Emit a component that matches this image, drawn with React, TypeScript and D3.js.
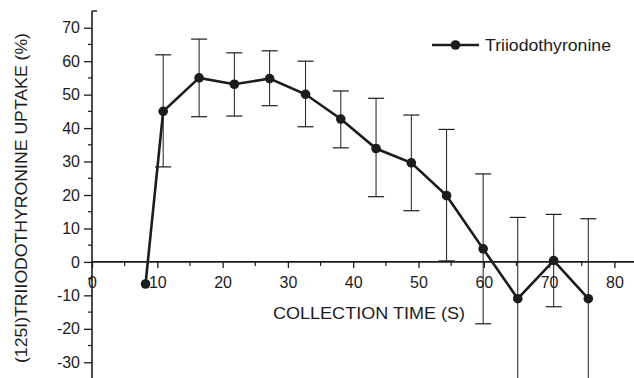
import React, { useEffect, useRef } from 'react'
import * as d3 from 'd3'

const times = [8.2, 10.9, 16.4, 21.8, 27.2, 32.7, 38.1, 43.5, 48.9, 54.3, 59.9, 65.2, 70.7, 76.0]
const uptake = [-6.6, 45, 55, 53.1, 54.8, 50.1, 42.7, 33.9, 29.6, 19.8, 3.9, -11, 0.4, -11]
const errHigh = [null, 61.9, 66.6, 62.5, 63.1, 60, 51.1, 48.9, 43.9, 39.6, 26.3, 13.3, 14.2, 12.9]
const errLow = [null, 28.4, 43.4, 43.6, 46.7, 40.4, 34.1, 19.5, 15.3, 0.3, -18.5, -37, -13.4, -37]

const xTicks = [0, 10, 20, 30, 40, 50, 60, 70, 80]
const yTicks = [-30, -20, -10, 0, 10, 20, 30, 40, 50, 60, 70]
const seriesName = 'Triiodothyronine'

const W = 634
const H = 378
const FONT = '"Liberation Sans", Arial, sans-serif'
const INK = '#1c1c1c'

export default function App() {
  const ref = useRef<SVGSVGElement | null>(null)

  useEffect(() => {
    const svg = d3.select(ref.current)
    svg.selectAll('*').remove()

    const x = d3.scaleLinear().domain([0, 83]).range([92, 634])
    const y = d3.scaleLinear().domain([-35, 75]).range([379, 11])

    const g = svg.append('g')

    // y axis
    const yAxis = d3
      .axisLeft(y)
      .tickValues(yTicks)
      .tickSize(8)
      .tickPadding(4)
      .tickFormat((d) => String(d))
    const ya = g.append('g').attr('transform', `translate(${x(0)},0)`).call(yAxis)
    ya.select('.domain').remove()
    ya.selectAll('text').attr('font-size', 16).attr('font-family', FONT).attr('fill', INK)
    ya.selectAll('line').attr('stroke', INK).attr('stroke-width', 1.3)
    const yMinor = d3.range(-35, 75, 10)
    g.selectAll('.yminor')
      .data(yMinor)
      .enter()
      .append('line')
      .attr('x1', x(0) - 4)
      .attr('x2', x(0))
      .attr('y1', (d) => y(d))
      .attr('y2', (d) => y(d))
      .attr('stroke', INK)
      .attr('stroke-width', 1.2)
    g.append('line')
      .attr('x1', x(0))
      .attr('x2', x(0))
      .attr('y1', y(75))
      .attr('y2', H)
      .attr('stroke', INK)
      .attr('stroke-width', 1.6)
    g.append('line')
      .attr('x1', x(0))
      .attr('x2', x(0) + 5)
      .attr('y1', y(75))
      .attr('y2', y(75))
      .attr('stroke', INK)
      .attr('stroke-width', 1.4)

    // x axis at y=0
    const xAxis = d3
      .axisBottom(x)
      .tickValues(xTicks)
      .tickSize(6)
      .tickPadding(9)
      .tickFormat((d) => String(d))
    const xa = g.append('g').attr('transform', `translate(0,${y(0)})`).call(xAxis)
    xa.select('.domain').remove()
    xa.selectAll('text').attr('font-size', 16).attr('font-family', FONT).attr('fill', INK)
    xa.selectAll('line').attr('stroke', INK).attr('stroke-width', 1.3)
    const xMinor = d3.range(5, 83, 10)
    g.selectAll('.xminor')
      .data(xMinor)
      .enter()
      .append('line')
      .attr('x1', (d) => x(d))
      .attr('x2', (d) => x(d))
      .attr('y1', y(0))
      .attr('y2', y(0) + 4)
      .attr('stroke', INK)
      .attr('stroke-width', 1.2)
    g.append('line')
      .attr('x1', x(0))
      .attr('x2', W)
      .attr('y1', y(0))
      .attr('y2', y(0))
      .attr('stroke', INK)
      .attr('stroke-width', 1.6)

    // labels
    g.append('text')
      .attr('x', 273)
      .attr('y', 319)
      .attr('font-size', 16.5)
      .attr('font-family', FONT)
      .attr('fill', INK)
      .attr('textLength', 192)
      .attr('lengthAdjust', 'spacingAndGlyphs')
      .text('COLLECTION TIME (S)')
    g.append('text')
      .attr('transform', `translate(27,363) rotate(-90)`)
      .attr('font-size', 16.5)
      .attr('font-family', FONT)
      .attr('fill', INK)
      .attr('textLength', 330)
      .attr('lengthAdjust', 'spacingAndGlyphs')
      .text('(125I)TRIIODOTHYRONINE UPTAKE (%)')

    const pts = times.map((t, i) => ({ t, v: uptake[i], hi: errHigh[i], lo: errLow[i] }))

    // error bars
    const eb = g.selectAll('.eb').data(pts.filter((p) => p.hi !== null)).enter().append('g')
    eb.append('line')
      .attr('x1', (d) => x(d.t))
      .attr('x2', (d) => x(d.t))
      .attr('y1', (d) => y(d.hi as number))
      .attr('y2', (d) => y(d.lo as number))
      .attr('stroke', INK)
      .attr('stroke-width', 1)
    eb.append('line')
      .attr('x1', (d) => x(d.t) - 8)
      .attr('x2', (d) => x(d.t) + 8)
      .attr('y1', (d) => y(d.hi as number))
      .attr('y2', (d) => y(d.hi as number))
      .attr('stroke', INK)
      .attr('stroke-width', 1.2)
    eb.append('line')
      .attr('x1', (d) => x(d.t) - 8)
      .attr('x2', (d) => x(d.t) + 8)
      .attr('y1', (d) => y(d.lo as number))
      .attr('y2', (d) => y(d.lo as number))
      .attr('stroke', INK)
      .attr('stroke-width', 1.2)

    // line + markers
    const line = d3
      .line<{ t: number; v: number }>()
      .x((d) => x(d.t))
      .y((d) => y(d.v))
    g.append('path')
      .datum(pts)
      .attr('d', line)
      .attr('fill', 'none')
      .attr('stroke', INK)
      .attr('stroke-width', 2.6)
    g.selectAll('.pt')
      .data(pts)
      .enter()
      .append('circle')
      .attr('cx', (d) => x(d.t))
      .attr('cy', (d) => y(d.v))
      .attr('r', 4.8)
      .attr('fill', INK)

    // legend
    const lg = g.append('g').attr('transform', 'translate(432,45)')
    lg.append('line').attr('x1', 0).attr('x2', 47).attr('stroke', INK).attr('stroke-width', 2.6)
    lg.append('circle').attr('cx', 23.5).attr('r', 4.8).attr('fill', INK)
    lg.append('text')
      .attr('x', 53)
      .attr('y', 6)
      .attr('font-size', 16.5)
      .attr('font-family', FONT)
      .attr('fill', INK)
      .attr('textLength', 126)
      .attr('lengthAdjust', 'spacingAndGlyphs')
      .text(seriesName)
  }, [])

  return (
    <svg
      ref={ref}
      width={W}
      height={H}
      style={{ position: 'absolute', left: 0, top: 0, background: '#fff', display: 'block' }}
    />
  )
}
